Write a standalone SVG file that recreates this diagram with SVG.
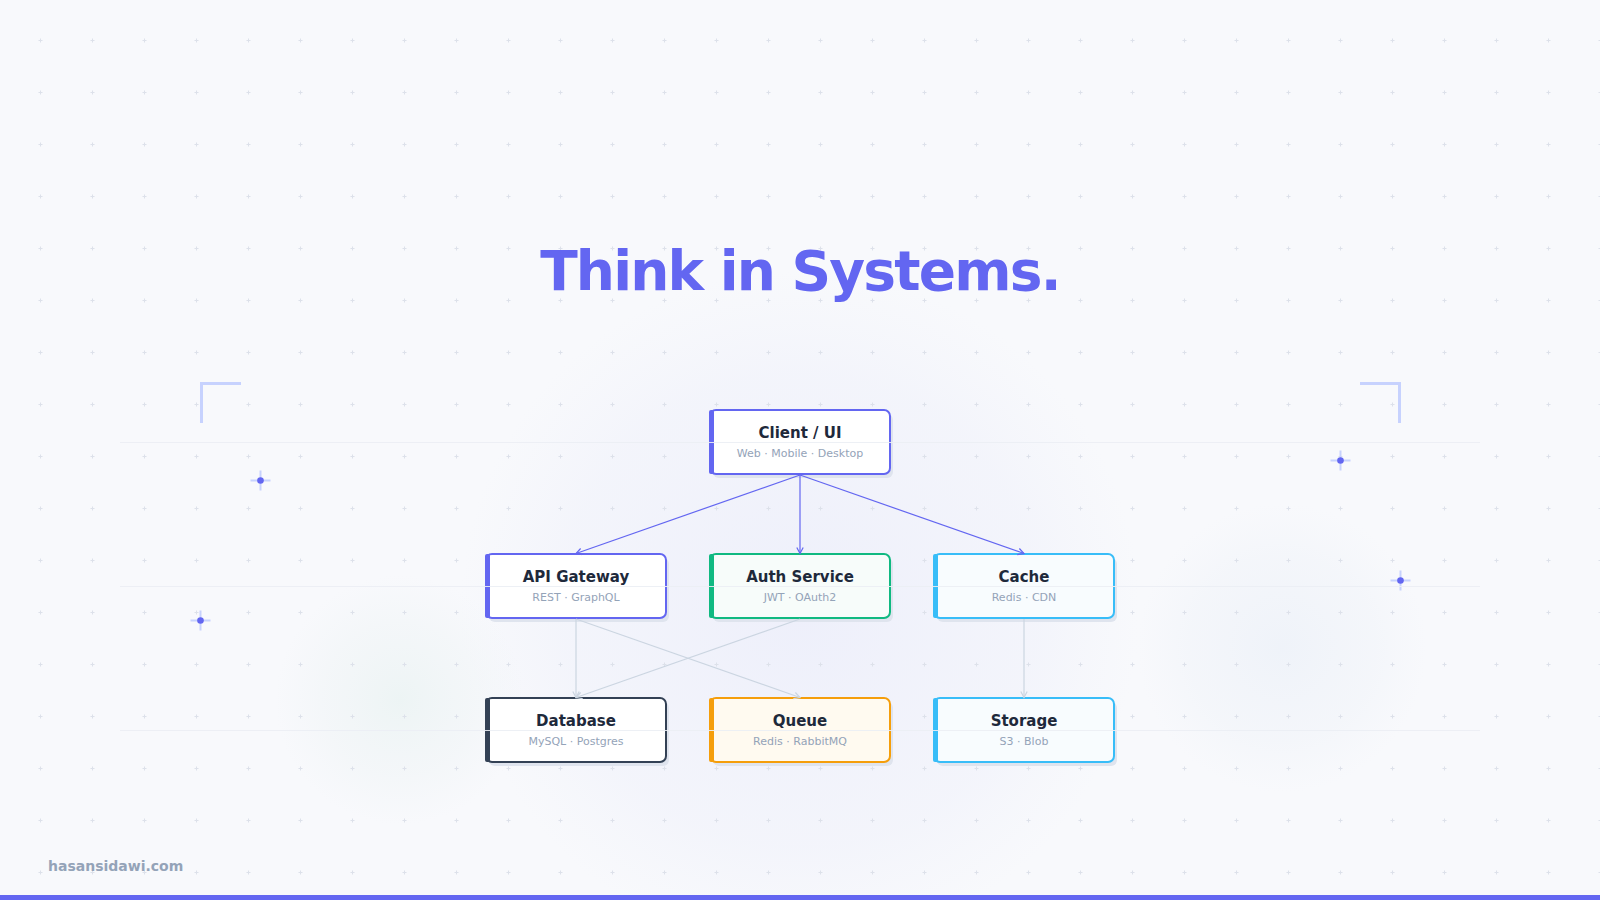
<svg xmlns="http://www.w3.org/2000/svg" width="1600" height="900" viewBox="0 0 1600 900">
  <defs>
    <style>
      .title { font-family: "DejaVu Sans", "Liberation Sans", sans-serif; font-weight: bold; }
      .ntitle { font-family: "DejaVu Sans", sans-serif; font-weight: bold; font-size: 15px; fill: #1e293b; text-anchor: middle; }
      .nsub { font-family: "DejaVu Sans", sans-serif; font-size: 11px; fill: #94a3b8; text-anchor: middle; }
      .shadow { fill: #dfe4ee; }
      .box { stroke-width: 2; }
      .c-blue { stroke: #6366f1; stroke-width: 1.2; fill: none; }
      .c-gray { stroke: #cbd5e1; stroke-width: 1.2; fill: none; }
      .guide { stroke: #eceff5; stroke-width: 1; opacity: 0.9; }
      .spark-arm { stroke: #c7d2fe; stroke-width: 2; }
      .spark-dot { fill: #6366f1; }
      .bracket { stroke: #c7d2fe; stroke-width: 3; fill: none; }
    </style>
    <pattern id="grid" x="14" y="14" width="52" height="52" patternUnits="userSpaceOnUse">
      <path d="M24.5,26.5 h4 M26.5,24.5 v4" stroke="#dde1ea" stroke-width="1"/>
    </pattern>
    <radialGradient id="glowC" cx="800" cy="610" r="340" gradientUnits="userSpaceOnUse">
      <stop offset="0" stop-color="#e8eafa" stop-opacity="0.65"/>
      <stop offset="0.7" stop-color="#eceefa" stop-opacity="0.4"/>
      <stop offset="1" stop-color="#eef0fa" stop-opacity="0"/>
    </radialGradient>
    <radialGradient id="glowL" cx="400" cy="700" r="125" gradientUnits="userSpaceOnUse">
      <stop offset="0" stop-color="#e8f2f1" stop-opacity="0.7"/>
      <stop offset="0.6" stop-color="#edf3f4" stop-opacity="0.4"/>
      <stop offset="1" stop-color="#eef3f5" stop-opacity="0"/>
    </radialGradient>
    <radialGradient id="glowR" cx="1282" cy="648" r="145" gradientUnits="userSpaceOnUse">
      <stop offset="0" stop-color="#ebf0f8" stop-opacity="0.7"/>
      <stop offset="0.65" stop-color="#eef2f8" stop-opacity="0.4"/>
      <stop offset="1" stop-color="#f0f3f9" stop-opacity="0"/>
    </radialGradient>
    <marker id="arrBlue" markerWidth="9" markerHeight="9" refX="7" refY="4" orient="auto" markerUnits="userSpaceOnUse">
      <path d="M1,0.8 L7,4 L1,7.2" fill="none" stroke="#6366f1" stroke-width="1.2"/>
    </marker>
    <marker id="arrGray" markerWidth="9" markerHeight="9" refX="7" refY="4" orient="auto" markerUnits="userSpaceOnUse">
      <path d="M1,0.8 L7,4 L1,7.2" fill="none" stroke="#cbd5e1" stroke-width="1.2"/>
    </marker>
  </defs>

  <!-- background -->
  <rect x="0" y="0" width="1600" height="900" fill="#f8f9fc"/>
  <circle cx="800" cy="610" r="340" fill="url(#glowC)"/>
  <circle cx="400" cy="700" r="125" fill="url(#glowL)"/>
  <circle cx="1282" cy="648" r="145" fill="url(#glowR)"/>
  <rect x="0" y="0" width="1600" height="900" fill="url(#grid)"/>

  <!-- corner brackets -->
  <path class="bracket" d="M201.5,423 V383.5 H241"/>
  <path class="bracket" d="M1360,383.5 H1399.5 V423"/>

  <!-- sparkles -->
  <g id="sparkles">
    <g transform="translate(260.5,480.5)"><path class="spark-arm" d="M-10,0 H10 M0,-10 V10"/><circle class="spark-dot" r="3.3"/></g>
    <g transform="translate(200.5,620.5)"><path class="spark-arm" d="M-10,0 H10 M0,-10 V10"/><circle class="spark-dot" r="3.3"/></g>
    <g transform="translate(1340.5,460.5)"><path class="spark-arm" d="M-10,0 H10 M0,-10 V10"/><circle class="spark-dot" r="3.3"/></g>
    <g transform="translate(1400.5,580.5)"><path class="spark-arm" d="M-10,0 H10 M0,-10 V10"/><circle class="spark-dot" r="3.3"/></g>
  </g>

  <!-- title -->
  <text class="title" x="800" y="290" font-size="55" letter-spacing="-1.8" fill="#6366f1" text-anchor="middle">Think in Systems.</text>

  <!-- nodes -->
  <g id="node-client">
    <rect class="shadow" x="713" y="414" width="180" height="64" rx="6"/>
    <rect class="box" x="710" y="410" width="180" height="64" rx="6" fill="#ffffff" stroke="#6366f1"/>
    <rect x="709" y="410" width="5" height="64" rx="2" fill="#6366f1"/>
    <text class="ntitle" x="800" y="438">Client / UI</text>
    <text class="nsub" x="800" y="457">Web · Mobile · Desktop</text>
  </g>
  <g id="node-api">
    <rect class="shadow" x="489" y="558" width="180" height="64" rx="6"/>
    <rect class="box" x="486" y="554" width="180" height="64" rx="6" fill="#ffffff" stroke="#6366f1"/>
    <rect x="485" y="554" width="5" height="64" rx="2" fill="#6366f1"/>
    <text class="ntitle" x="576" y="582">API Gateway</text>
    <text class="nsub" x="576" y="601">REST · GraphQL</text>
  </g>
  <g id="node-auth">
    <rect class="shadow" x="713" y="558" width="180" height="64" rx="6"/>
    <rect class="box" x="710" y="554" width="180" height="64" rx="6" fill="#f7fcfa" stroke="#10b981"/>
    <rect x="709" y="554" width="5" height="64" rx="2" fill="#10b981"/>
    <text class="ntitle" x="800" y="582">Auth Service</text>
    <text class="nsub" x="800" y="601">JWT · OAuth2</text>
  </g>
  <g id="node-cache">
    <rect class="shadow" x="937" y="558" width="180" height="64" rx="6"/>
    <rect class="box" x="934" y="554" width="180" height="64" rx="6" fill="#f8fcfe" stroke="#38bdf8"/>
    <rect x="933" y="554" width="5" height="64" rx="2" fill="#38bdf8"/>
    <text class="ntitle" x="1024" y="582">Cache</text>
    <text class="nsub" x="1024" y="601">Redis · CDN</text>
  </g>
  <g id="node-database">
    <rect class="shadow" x="489" y="702" width="180" height="64" rx="6"/>
    <rect class="box" x="486" y="698" width="180" height="64" rx="6" fill="#ffffff" stroke="#334155"/>
    <rect x="485" y="698" width="5" height="64" rx="2" fill="#334155"/>
    <text class="ntitle" x="576" y="726">Database</text>
    <text class="nsub" x="576" y="745">MySQL · Postgres</text>
  </g>
  <g id="node-queue">
    <rect class="shadow" x="713" y="702" width="180" height="64" rx="6"/>
    <rect class="box" x="710" y="698" width="180" height="64" rx="6" fill="#fffaf0" stroke="#f59e0b"/>
    <rect x="709" y="698" width="5" height="64" rx="2" fill="#f59e0b"/>
    <text class="ntitle" x="800" y="726">Queue</text>
    <text class="nsub" x="800" y="745">Redis · RabbitMQ</text>
  </g>
  <g id="node-storage">
    <rect class="shadow" x="937" y="702" width="180" height="64" rx="6"/>
    <rect class="box" x="934" y="698" width="180" height="64" rx="6" fill="#f8fcfe" stroke="#38bdf8"/>
    <rect x="933" y="698" width="5" height="64" rx="2" fill="#38bdf8"/>
    <text class="ntitle" x="1024" y="726">Storage</text>
    <text class="nsub" x="1024" y="745">S3 · Blob</text>
  </g>

  <!-- connectors -->
  <g id="connectors">
    <line class="c-blue" x1="800" y1="475" x2="576" y2="553.5" marker-end="url(#arrBlue)"/>
    <line class="c-blue" x1="800" y1="475" x2="800" y2="553.5" marker-end="url(#arrBlue)"/>
    <line class="c-blue" x1="800" y1="475" x2="1024" y2="553.5" marker-end="url(#arrBlue)"/>
    <line class="c-gray" x1="576" y1="619" x2="576" y2="697.5" marker-end="url(#arrGray)"/>
    <line class="c-gray" x1="576" y1="619" x2="800" y2="697.5" marker-end="url(#arrGray)"/>
    <line class="c-gray" x1="800" y1="619" x2="576" y2="697.5" marker-end="url(#arrGray)"/>
    <line class="c-gray" x1="1024" y1="619" x2="1024" y2="697.5" marker-end="url(#arrGray)"/>
  </g>

  <!-- faint guide lines -->
  <g id="guides">
    <line class="guide" x1="120" y1="442.5" x2="1480" y2="442.5"/>
    <line class="guide" x1="120" y1="586.5" x2="1480" y2="586.5"/>
    <line class="guide" x1="120" y1="730.5" x2="1480" y2="730.5"/>
  </g>

  <!-- footer -->
  <text x="48" y="871" font-family="DejaVu Sans, sans-serif" font-weight="bold" font-size="14" fill="#94a3b8">hasansidawi.com</text>
  <rect x="0" y="895" width="1600" height="5" fill="#6366f1"/>
</svg>
